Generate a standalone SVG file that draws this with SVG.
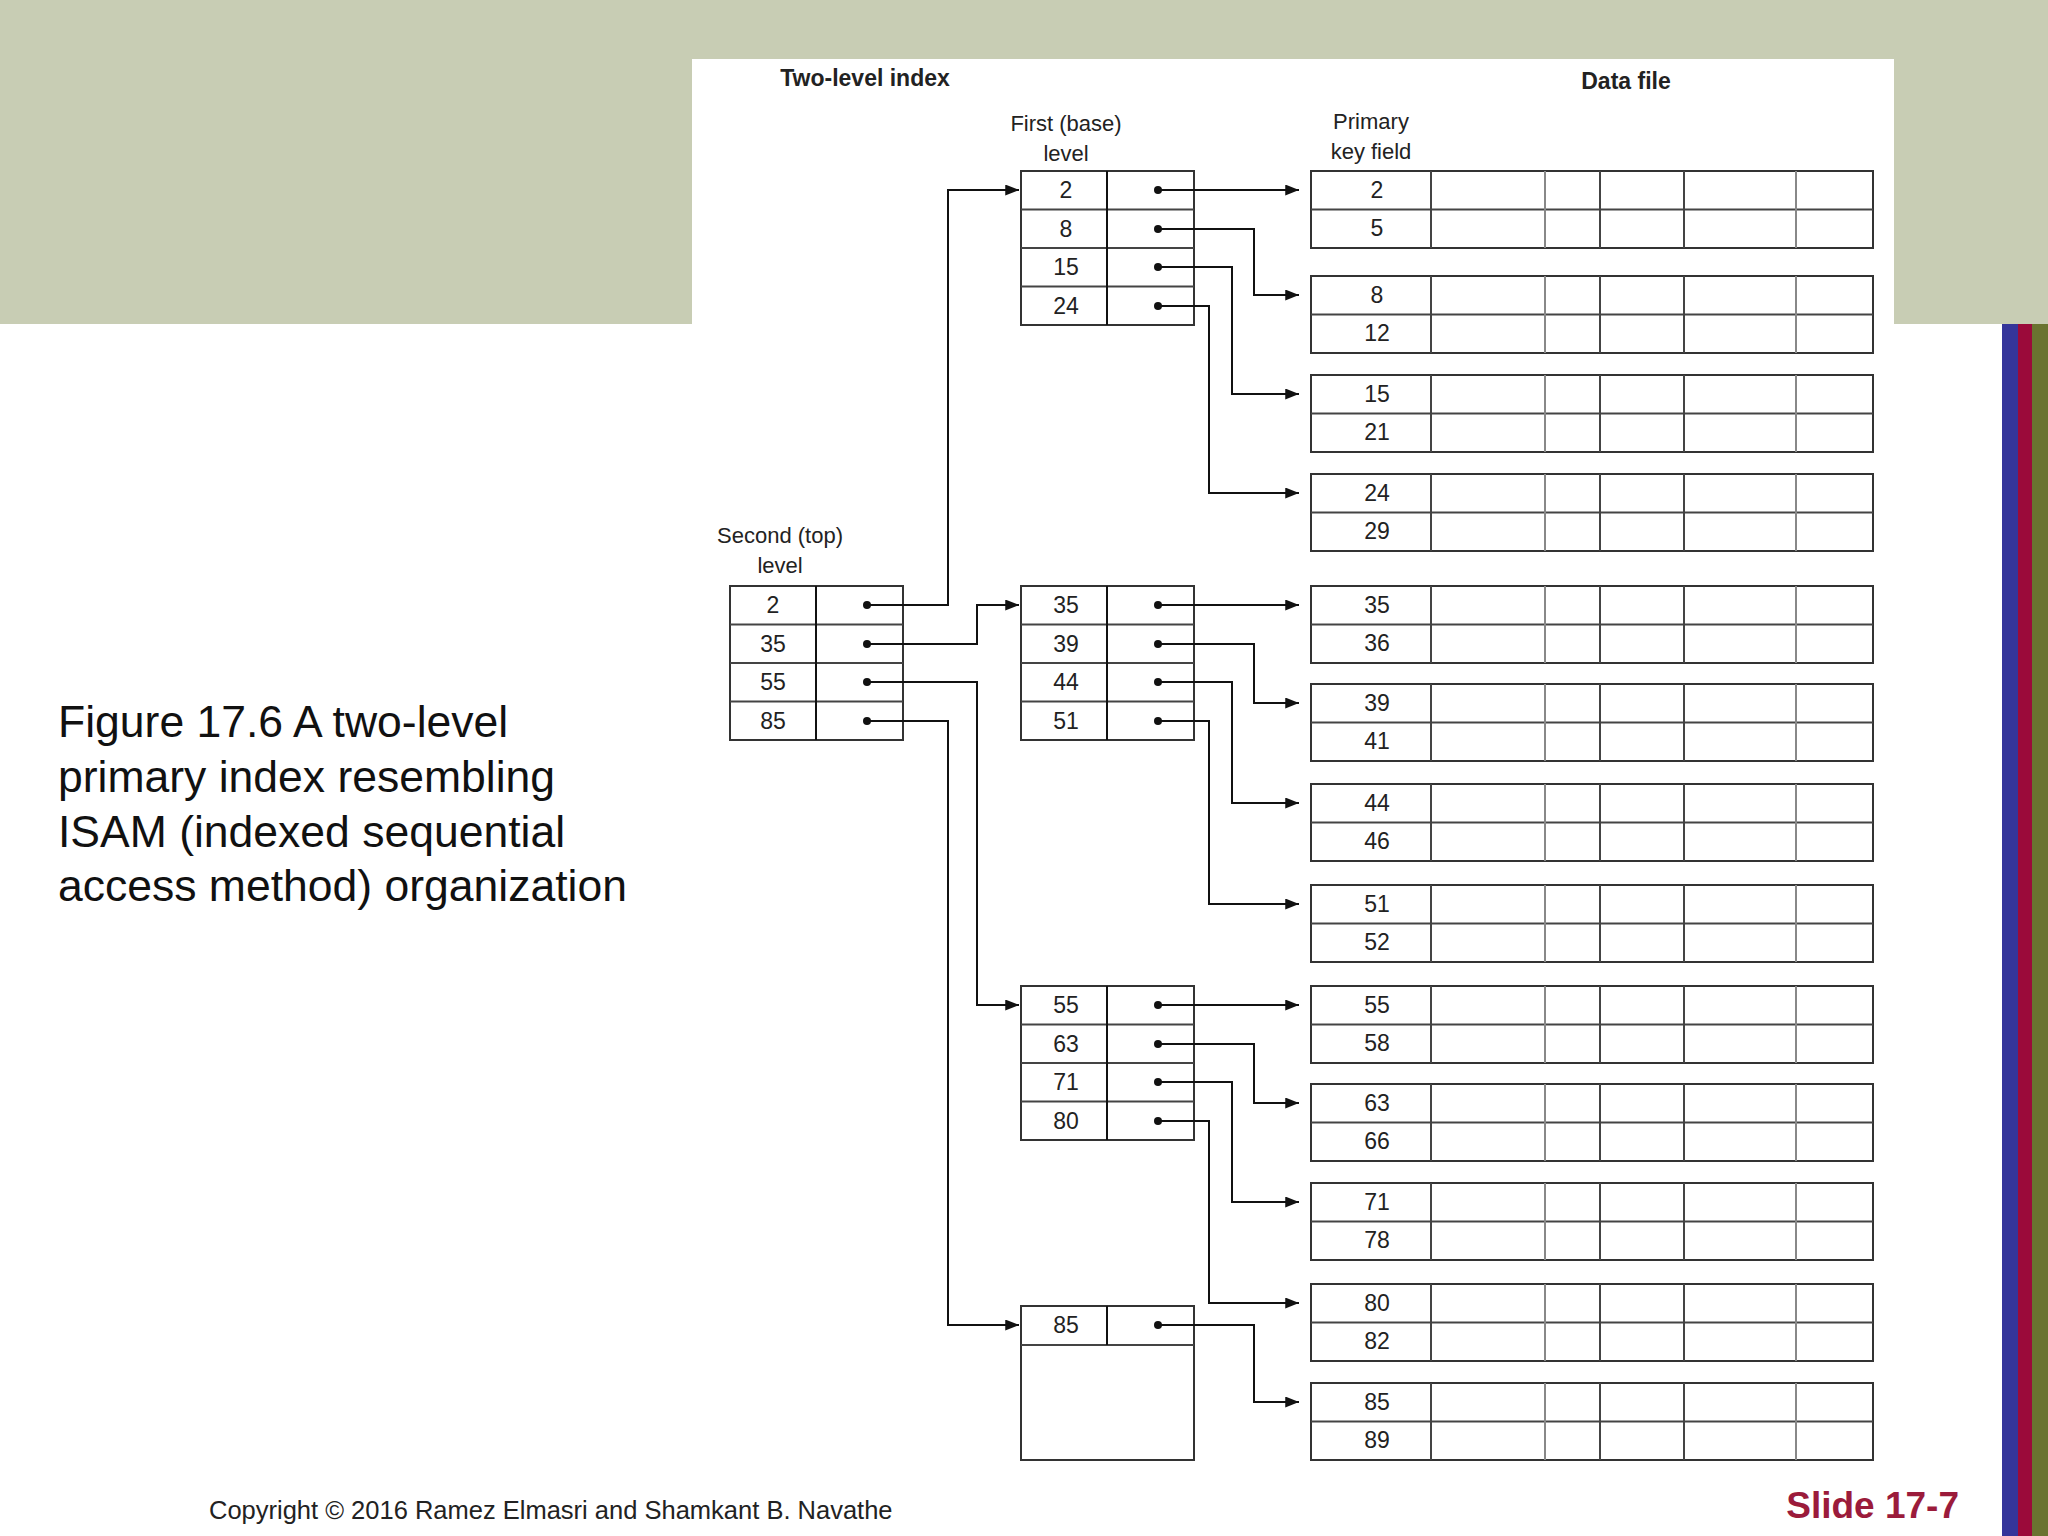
<svg xmlns="http://www.w3.org/2000/svg" xmlns:xlink="http://www.w3.org/1999/xlink" width="2048" height="1536" viewBox="0 0 2048 1536">
<style>
.t{font-family:"Liberation Sans",Arial,sans-serif;fill:#222}
.n{font-size:23px;text-anchor:middle}
.h{font-size:22px;text-anchor:middle}
.c{stroke:#111;stroke-width:2;fill:none}
.g{fill:#fff;stroke:#333;stroke-width:2}
.gl{stroke:#444;stroke-width:2}
.gg{stroke:#888;stroke-width:2}
</style>
<defs>
<marker id="ar" viewBox="0 0 10 8" refX="10" refY="4" markerWidth="24" markerHeight="11" markerUnits="userSpaceOnUse" orient="auto"><path d="M0,0 L10,4 L0,8 z" fill="#111"/></marker>
<g id="db"><rect class="g" x="0" y="0" width="562" height="77" stroke="#111"/><line class="gl" x1="0" y1="38.5" x2="562" y2="38.5"/><line class="gl" x1="120" y1="0" x2="120" y2="77"/><line class="gg" x1="234" y1="0" x2="234" y2="77"/><line class="gl" x1="289" y1="0" x2="289" y2="77"/><line class="gl" x1="373" y1="0" x2="373" y2="77"/><line class="gg" x1="485" y1="0" x2="485" y2="77"/></g>
<g id="ib"><rect class="g" x="0" y="0" width="173" height="154" stroke="#777"/><line class="gl" x1="0" y1="38.5" x2="173" y2="38.5"/><line class="gl" x1="0" y1="77" x2="173" y2="77"/><line class="gl" x1="0" y1="115.5" x2="173" y2="115.5"/><line x1="86" y1="0" x2="86" y2="154" stroke="#111" stroke-width="2"/></g>
</defs>
<rect width="2048" height="1536" fill="#fff"/>
<rect x="0" y="0" width="2048" height="324" fill="#c8cdb4"/>
<rect x="692" y="59" width="1202" height="1477" fill="#fff"/>
<rect x="2002" y="324" width="16" height="1212" fill="#35359a"/>
<rect x="2018" y="324" width="14" height="1212" fill="#9b0a3a"/>
<rect x="2032" y="324" width="16" height="1212" fill="#6a7330"/>

<g id="labels">
<text class="t" x="865" y="86" font-size="23" font-weight="bold" text-anchor="middle">Two-level index</text>
<text class="t" x="1626" y="89" font-size="23" font-weight="bold" text-anchor="middle">Data file</text>
<text class="t h" x="1066" y="131">First (base)</text>
<text class="t h" x="1066" y="161">level</text>
<text class="t h" x="1371" y="129">Primary</text>
<text class="t h" x="1371" y="159">key field</text>
<text class="t h" x="780" y="543">Second (top)</text>
<text class="t h" x="780" y="573">level</text>
<g font-family="'Liberation Sans',Arial,sans-serif" font-size="44.5" fill="#111">
<text x="58" y="737">Figure 17.6 A two-level</text>
<text x="58" y="792">primary index resembling</text>
<text x="58" y="847">ISAM (indexed sequential</text>
<text x="58" y="901">access method) organization</text>
</g>
<text class="t" x="209" y="1519" font-size="25.5">Copyright © 2016 Ramez Elmasri and Shamkant B. Navathe</text>
<text x="1959" y="1518" font-family="'Liberation Sans',Arial,sans-serif" font-size="37" font-weight="bold" fill="#9b1b3b" text-anchor="end">Slide 17-7</text>
</g>

<g id="second-level">
<use xlink:href="#ib" x="730" y="586"/>
<text class="t n" x="773" y="613">2</text><text class="t n" x="773" y="652">35</text><text class="t n" x="773" y="690">55</text><text class="t n" x="773" y="729">85</text>
</g>
<g id="first-b1"><use xlink:href="#ib" x="1021" y="171"/>
<text class="t n" x="1066" y="198">2</text><text class="t n" x="1066" y="237">8</text><text class="t n" x="1066" y="275">15</text><text class="t n" x="1066" y="314">24</text></g>
<g id="first-b2"><use xlink:href="#ib" x="1021" y="586"/>
<text class="t n" x="1066" y="613">35</text><text class="t n" x="1066" y="652">39</text><text class="t n" x="1066" y="690">44</text><text class="t n" x="1066" y="729">51</text></g>
<g id="first-b3"><use xlink:href="#ib" x="1021" y="986"/>
<text class="t n" x="1066" y="1013">55</text><text class="t n" x="1066" y="1052">63</text><text class="t n" x="1066" y="1090">71</text><text class="t n" x="1066" y="1129">80</text></g>
<g id="first-b4"><rect class="g" x="1021" y="1306" width="173" height="154" stroke="#777"/><line class="gl" x1="1021" y1="1345" x2="1194" y2="1345"/><line x1="1107" y1="1306" x2="1107" y2="1345" stroke="#111" stroke-width="2"/>
<text class="t n" x="1066" y="1333">85</text></g>

<g id="data">
<g id="d1"><use xlink:href="#db" x="1311" y="171"/><text class="t n" x="1377" y="198">2</text><text class="t n" x="1377" y="236">5</text></g>
<g id="d2"><use xlink:href="#db" x="1311" y="276"/><text class="t n" x="1377" y="303">8</text><text class="t n" x="1377" y="341">12</text></g>
<g id="d3"><use xlink:href="#db" x="1311" y="375"/><text class="t n" x="1377" y="402">15</text><text class="t n" x="1377" y="440">21</text></g>
<g id="d4"><use xlink:href="#db" x="1311" y="474"/><text class="t n" x="1377" y="501">24</text><text class="t n" x="1377" y="539">29</text></g>
<g id="d5"><use xlink:href="#db" x="1311" y="586"/><text class="t n" x="1377" y="613">35</text><text class="t n" x="1377" y="651">36</text></g>
<g id="d6"><use xlink:href="#db" x="1311" y="684"/><text class="t n" x="1377" y="711">39</text><text class="t n" x="1377" y="749">41</text></g>
<g id="d7"><use xlink:href="#db" x="1311" y="784"/><text class="t n" x="1377" y="811">44</text><text class="t n" x="1377" y="849">46</text></g>
<g id="d8"><use xlink:href="#db" x="1311" y="885"/><text class="t n" x="1377" y="912">51</text><text class="t n" x="1377" y="950">52</text></g>
<g id="d9"><use xlink:href="#db" x="1311" y="986"/><text class="t n" x="1377" y="1013">55</text><text class="t n" x="1377" y="1051">58</text></g>
<g id="d10"><use xlink:href="#db" x="1311" y="1084"/><text class="t n" x="1377" y="1111">63</text><text class="t n" x="1377" y="1149">66</text></g>
<g id="d11"><use xlink:href="#db" x="1311" y="1183"/><text class="t n" x="1377" y="1210">71</text><text class="t n" x="1377" y="1248">78</text></g>
<g id="d12"><use xlink:href="#db" x="1311" y="1284"/><text class="t n" x="1377" y="1311">80</text><text class="t n" x="1377" y="1349">82</text></g>
<g id="d13"><use xlink:href="#db" x="1311" y="1383"/><text class="t n" x="1377" y="1410">85</text><text class="t n" x="1377" y="1448">89</text></g>
</g>

<g id="connectors" fill="#111">
<g class="c" marker-end="url(#ar)">
<path d="M867,605 H948 V190 H1019"/>
<path d="M867,644 H977 V605 H1019"/>
<path d="M867,682 H977 V1005 H1019"/>
<path d="M867,721 H948 V1325 H1019"/>
<path d="M1158,190 H1299"/>
<path d="M1158,229 H1254 V295 H1299"/>
<path d="M1158,267 H1232 V394 H1299"/>
<path d="M1158,306 H1209 V493 H1299"/>
<path d="M1158,605 H1299"/>
<path d="M1158,644 H1254 V703 H1299"/>
<path d="M1158,682 H1232 V803 H1299"/>
<path d="M1158,721 H1209 V904 H1299"/>
<path d="M1158,1005 H1299"/>
<path d="M1158,1044 H1254 V1103 H1299"/>
<path d="M1158,1082 H1232 V1202 H1299"/>
<path d="M1158,1121 H1209 V1303 H1299"/>
<path d="M1158,1325 H1254 V1402 H1299"/>
</g>
<circle cx="867" cy="605" r="4"/><circle cx="867" cy="644" r="4"/><circle cx="867" cy="682" r="4"/><circle cx="867" cy="721" r="4"/>
<circle cx="1158" cy="190" r="4"/><circle cx="1158" cy="229" r="4"/><circle cx="1158" cy="267" r="4"/><circle cx="1158" cy="306" r="4"/>
<circle cx="1158" cy="605" r="4"/><circle cx="1158" cy="644" r="4"/><circle cx="1158" cy="682" r="4"/><circle cx="1158" cy="721" r="4"/>
<circle cx="1158" cy="1005" r="4"/><circle cx="1158" cy="1044" r="4"/><circle cx="1158" cy="1082" r="4"/><circle cx="1158" cy="1121" r="4"/>
<circle cx="1158" cy="1325" r="4"/>
</g>
</svg>
